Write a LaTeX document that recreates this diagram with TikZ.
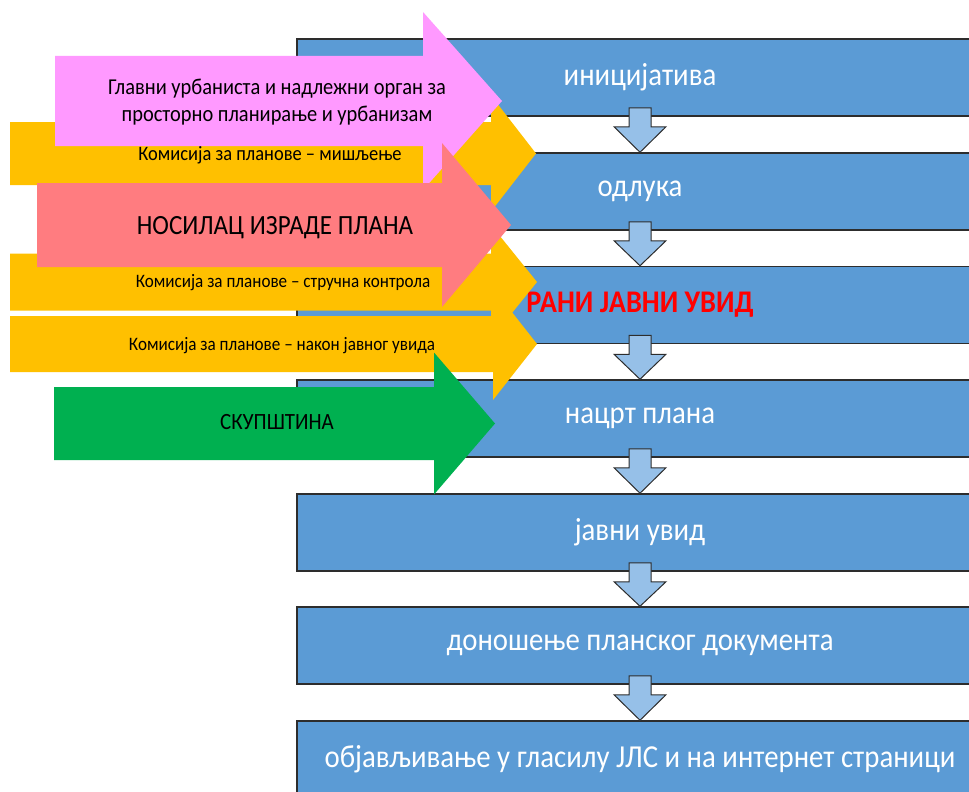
\documentclass[tikz,border=0pt]{standalone}
\usepackage{fontspec}
\setmainfont{Carlito}
\usetikzlibrary{calc}

\definecolor{stageblue}{RGB}{91,155,213}
\definecolor{stageline}{RGB}{45,45,45}
\definecolor{flowblue}{RGB}{150,192,232}
\definecolor{pinkarr}{RGB}{255,153,255}
\definecolor{goldarr}{RGB}{255,192,0}
\definecolor{salmonarr}{RGB}{255,124,128}
\definecolor{greenarr}{RGB}{0,176,80}

\newcommand{\narrow}[1]{\scalebox{0.9}[1]{#1}}
% right-pointing block arrow: colour, left x, head base x, tip x, centre y, half body, half head
\newcommand{\sidearrow}[7]{%
  \fill[#1] (#2,#5-#6) -- (#3,#5-#6) -- (#3,#5-#7) -- (#4,#5) -- (#3,#5+#7) -- (#3,#5+#6) -- (#2,#5+#6) -- cycle;}

\begin{document}
\begin{tikzpicture}[x=1pt,y=-1pt,
	stage/.style={rectangle,fill=stageblue,draw=stageline,line width=1.5pt,
		minimum width=686pt,minimum height=77pt,inner sep=0pt,text=white,
		font=\fontsize{32}{32}\selectfont},
	flow/.style={fill=flowblue,draw=stageline,line width=1pt},
	who/.style={text=black,align=center,inner sep=0pt}]
	\useasboundingbox (0,0) rectangle (969,792);
	\clip (0,0) rectangle (969,792);

	% stages of the procedure
	\node[stage] (ini)   at (640,77.5)  {\narrow{иницијатива}};
	\node[stage] (odl)   at (640,191.5) {\narrow{одлука}};
	\node[stage] (rani)  at (640,305)   {\narrow{\fontsize{31.5}{31.5}\selectfont\textcolor{red}{\bfseries РАНИ ЈАВНИ УВИД}}};
	\node[stage] (nacrt) at (640,418.5) {\narrow{нацрт плана}};
	\node[stage] (javni) at (640,532.5) {\narrow{јавни увид}};
	\node[stage] (dono)  at (640,645.5) {\narrow{доношење планског документа}};
	\node[stage] (obj)   at (640,759.5) {\narrow{објављивање у гласилу ЈЛС и на интернет страници}};

	\foreach \a/\b in {ini/odl,odl/rani,rani/nacrt,nacrt/javni,javni/dono,dono/obj}
	\draw[flow] ($(\a.south)+(-11,-9)$) -- ($(\a.south)+(11,-9)$) -- ($(\a.south)+(11,10)$)
		-- ($(\a.south)+(26,10)$) -- (\b.north) -- ($(\a.south)+(-26,10)$)
		-- ($(\a.south)+(-11,10)$) -- cycle;

	% who takes part
	\sidearrow{goldarr}{10}{491}{536}{153.5}{31.5}{58}
	\node[who,font=\fontsize{20.5}{20.5}\selectfont] (kom1) at (270,155) {\narrow{Комисија за планове – мишљење}};

	\sidearrow{pinkarr}{55}{423}{502}{101}{45}{89}
	\node[who,font=\fontsize{22.7}{27}\selectfont] (chief) at (277,102)
		{\narrow{Главни урбаниста и надлежни орган за}\\\narrow{просторно планирање и урбанизам}};

	\sidearrow{goldarr}{10}{491}{537}{282}{28.5}{57}
	\node[who,font=\fontsize{19}{19}\selectfont] (kom2) at (283,283) {\narrow{Комисија за планове – стручна контрола}};

	\sidearrow{salmonarr}{37}{442}{511}{225}{42}{82}
	\node[who,font=\fontsize{27.8}{27.8}\selectfont] (nosilac) at (275,228) {\narrow{НОСИЛАЦ ИЗРАДЕ ПЛАНА}};

	\sidearrow{goldarr}{10}{493}{537}{344}{28}{56}
	\node[who,font=\fontsize{19}{19}\selectfont] (kom3) at (282,346) {\narrow{Комисија за планове – након јавног увида}};

	\sidearrow{greenarr}{54}{434}{495}{423.5}{36.5}{71}
	\node[who,font=\fontsize{23.3}{23.3}\selectfont] (skup) at (277,422) {\narrow{СКУПШТИНА}};
\end{tikzpicture}
\end{document}
